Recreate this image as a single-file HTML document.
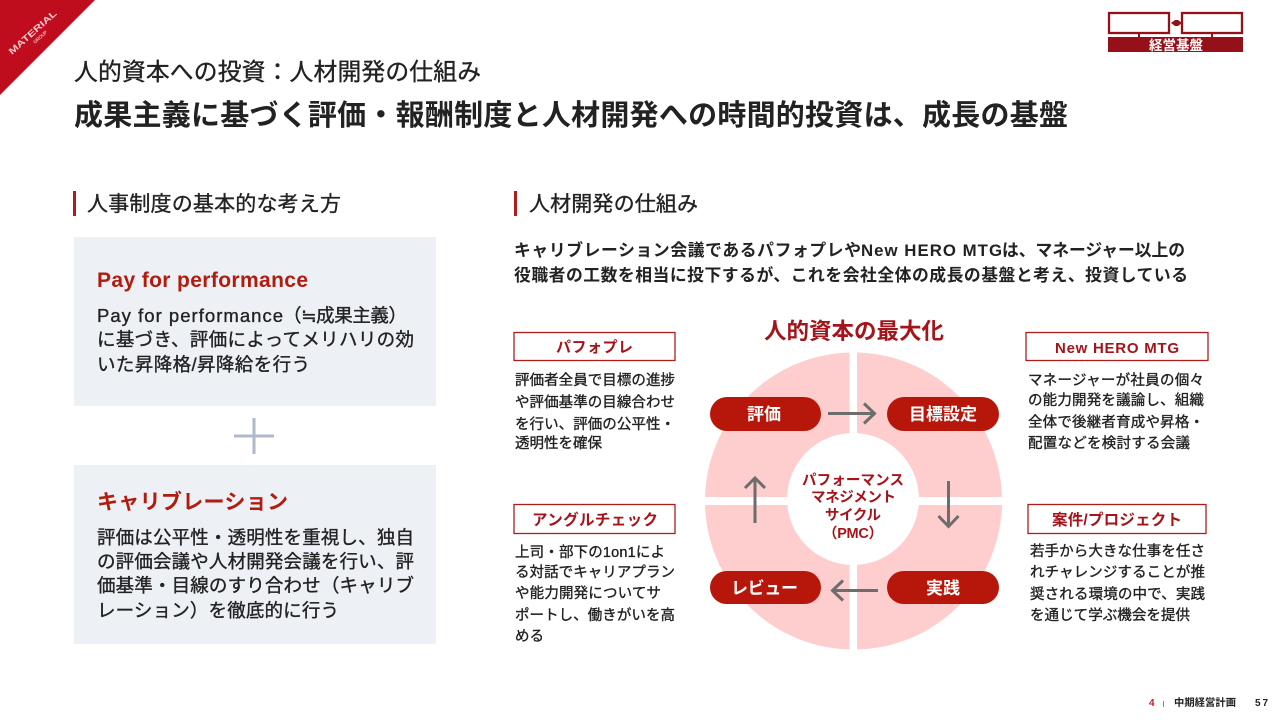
<!DOCTYPE html>
<html lang="ja"><head><meta charset="utf-8"><style>
html,body{margin:0;padding:0;background:#fff;width:1280px;height:720px;overflow:hidden}
svg{display:block}
text{font-family:"Liberation Sans","Noto Sans CJK JP",sans-serif;fill:#222}
.b{font-weight:700}
.m{font-weight:400;stroke:#222;stroke-width:.35}
.r{fill:#b01c0e}
.d{fill:#a5141a}
.w{fill:#fff}
.t{font-size:14.5px;font-weight:400;fill:#222;stroke:#222;stroke-width:.35}
</style></head><body>
<svg width="1280" height="720" viewBox="0 0 1280 720" xmlns="http://www.w3.org/2000/svg">
<polygon points="0,0 95,0 0,95" fill="#c00d1e"/>
<text transform="translate(12,55) rotate(-42)" font-size="9" class="b" style="fill:#f6c9cf" textLength="61" lengthAdjust="spacingAndGlyphs">MATERIAL</text>
<text transform="translate(35,44) rotate(-42)" font-size="5" class="b" style="fill:#f0a5ad" textLength="17">GROUP</text>

<rect x="1109" y="13" width="60" height="20" fill="#fff" stroke="#96101a" stroke-width="2.300"/>
<rect x="1182" y="13" width="60" height="20" fill="#fff" stroke="#96101a" stroke-width="2.300"/>
<rect x="1108" y="37" width="135" height="15" fill="#96101a"/>
<rect x="1138" y="34" width="2" height="3" fill="#96101a"/><rect x="1211" y="34" width="2" height="3" fill="#96101a"/>
<path d="M1171 23l4-3h3l4 3-4 3h-3z" fill="#96101a"/>
<text x="1149" y="50" font-size="13.500" class="b w" textLength="54">経営基盤</text>

<text x="74" y="80" font-size="23.800" class="m" textLength="407">人的資本への投資：人材開発の仕組み</text>
<text x="74" y="125" font-size="29" class="b" textLength="994">成果主義に基づく評価・報酬制度と人材開発への時間的投資は、成長の基盤</text>

<rect x="73" y="191" width="3" height="25" fill="#b01c1c"/>
<text x="87" y="211" font-size="21" class="m" textLength="254">人事制度の基本的な考え方</text>
<rect x="514" y="191" width="3" height="25" fill="#b01c1c"/>
<text x="529" y="211" font-size="21" class="m" textLength="169">人材開発の仕組み</text>

<rect x="74" y="237" width="362" height="169" fill="#edf0f5"/>
<text x="97" y="287" font-size="21" class="b r" textLength="211">Pay for performance</text>
<text x="97" y="322" font-size="18.500" class="m" textLength="186">Pay for performance</text>
<text x="283" y="322" font-size="18.500" class="m" textLength="124">（≒成果主義）</text>
<text x="97" y="346" font-size="18.500" class="m" textLength="317">に基づき、評価によってメリハリの効</text>
<text x="97" y="371" font-size="18.500" class="m" textLength="213">いた昇降格/昇降給を行う</text>

<rect x="234" y="434.500" width="40" height="3" fill="#aeb9ca"/>
<rect x="252.500" y="418" width="3" height="36" fill="#aeb9ca"/>

<rect x="74" y="465" width="362" height="179" fill="#edf0f5"/>
<text x="97" y="509" font-size="21" class="b r" textLength="191">キャリブレーション</text>
<text x="97" y="544" font-size="18.500" class="m" textLength="317">評価は公平性・透明性を重視し、独自</text>
<text x="97" y="568" font-size="18.500" class="m" textLength="317">の評価会議や人材開発会議を行い、評</text>
<text x="97" y="592" font-size="18.500" class="m" textLength="317">価基準・目線のすり合わせ（キャリブ</text>
<text x="97" y="617" font-size="18.500" class="m" textLength="242">レーション）を徹底的に行う</text>

<text x="514" y="256" font-size="16.800" class="b" textLength="347">キャリブレーション会議であるパフォプレや</text>
<text x="861" y="256" font-size="16.800" class="b" textLength="141">New HERO MTG</text>
<text x="1002" y="256" font-size="16.800" class="b" textLength="183">は、マネージャー以上の</text>
<text x="514" y="281" font-size="16.800" class="b" textLength="674">役職者の工数を相当に投下するが、これを会社全体の成長の基盤と考え、投資している</text>

<text x="764" y="339" font-size="22.500" class="b d" textLength="180">人的資本の最大化</text>

<circle cx="853.500" cy="501" r="148.500" fill="#fecdcd"/>
<rect x="849.500" y="350" width="7.500" height="302" fill="#fff"/>
<rect x="703" y="497" width="301" height="8" fill="#fff"/>
<circle cx="853" cy="499" r="66" fill="#fff"/>

<rect x="710" y="397" width="111" height="34" rx="17" fill="#b7160a"/>
<rect x="887" y="397" width="112" height="34" rx="17" fill="#b7160a"/>
<rect x="710" y="571" width="111" height="33" rx="16.500" fill="#b7160a"/>
<rect x="887" y="571" width="112" height="33" rx="16.500" fill="#b7160a"/>
<text x="747" y="420" font-size="17" class="b w" textLength="34">評価</text>
<text x="909" y="420" font-size="17" class="b w" textLength="68">目標設定</text>
<text x="731" y="594" font-size="17" class="b w" textLength="67">レビュー</text>
<text x="926" y="594" font-size="17" class="b w" textLength="34">実践</text>

<g fill="none" stroke="#6d6d6d" stroke-width="3">
<path d="M828 413.500h46M864 403.500l10.500 10-10.500 10"/>
<path d="M948.500 481v45M938.500 516l10 10.500 10-10.500"/>
<path d="M878 590.500h-45M843 580.500l-10.500 10 10.500 10"/>
<path d="M755 523v-45M745 488l10-10 10 10"/>
</g>

<text x="802" y="485" font-size="14.500" class="b d" textLength="102">パフォーマンス</text>
<text x="811" y="502" font-size="14.500" class="b d" textLength="85">マネジメント</text>
<text x="825" y="520" font-size="14.500" class="b d" textLength="56">サイクル</text>
<text x="823" y="538" font-size="14.500" class="b d" textLength="60">（PMC）</text>

<rect x="514" y="332.500" width="161" height="28" fill="#fff" stroke="#b01c1c" stroke-width="1.300"/>
<text x="556" y="352" font-size="15" class="b d" textLength="77">パフォプレ</text>
<rect x="1026" y="332.500" width="182" height="28" fill="#fff" stroke="#b01c1c" stroke-width="1.300"/>
<text x="1055" y="353" font-size="15" class="b d" textLength="124">New HERO MTG</text>
<rect x="514" y="504.500" width="161" height="29" fill="#fff" stroke="#b01c1c" stroke-width="1.300"/>
<text x="532" y="525" font-size="15.500" class="b d" textLength="126">アングルチェック</text>
<rect x="1028" y="504.500" width="178" height="29" fill="#fff" stroke="#b01c1c" stroke-width="1.300"/>
<text x="1052" y="525" font-size="15.500" class="b d" textLength="130">案件/プロジェクト</text>

<text class="t" x="515" y="385" textLength="160">評価者全員で目標の進捗</text>
<text class="t" x="515" y="407" textLength="160">や評価基準の目線合わせ</text>
<text class="t" x="515" y="429" textLength="160">を行い、評価の公平性・</text>
<text class="t" x="515" y="448" textLength="87">透明性を確保</text>

<text class="t" x="1028" y="385" textLength="176">マネージャーが社員の個々</text>
<text class="t" x="1028" y="405" textLength="176">の能力開発を議論し、組織</text>
<text class="t" x="1028" y="427" textLength="176">全体で後継者育成や昇格・</text>
<text class="t" x="1028" y="448" textLength="162">配置などを検討する会議</text>

<text class="t" x="515" y="557" textLength="150">上司・部下の1on1によ</text>
<text class="t" x="515" y="577" textLength="160">る対話でキャリアプラン</text>
<text class="t" x="515" y="598" textLength="146">や能力開発についてサ</text>
<text class="t" x="515" y="620" textLength="160">ポートし、働きがいを高</text>
<text class="t" x="515" y="641" textLength="29">める</text>

<text class="t" x="1030" y="556" textLength="175">若手から大きな仕事を任さ</text>
<text class="t" x="1030" y="577" textLength="175">れチャレンジすることが推</text>
<text class="t" x="1030" y="599" textLength="175">奨される環境の中で、実践</text>
<text class="t" x="1030" y="620" textLength="160">を通じて学ぶ機会を提供</text>

<text x="1149" y="706" font-size="10" class="b" style="fill:#c0202a">4</text>
<rect x="1163" y="701" width="1" height="6" fill="#888"/>
<text x="1174" y="706" font-size="10.300" class="b" textLength="62">中期経営計画</text>
<text x="1255" y="706" font-size="10" class="b" textLength="13">57</text>
</svg>
</body></html>
